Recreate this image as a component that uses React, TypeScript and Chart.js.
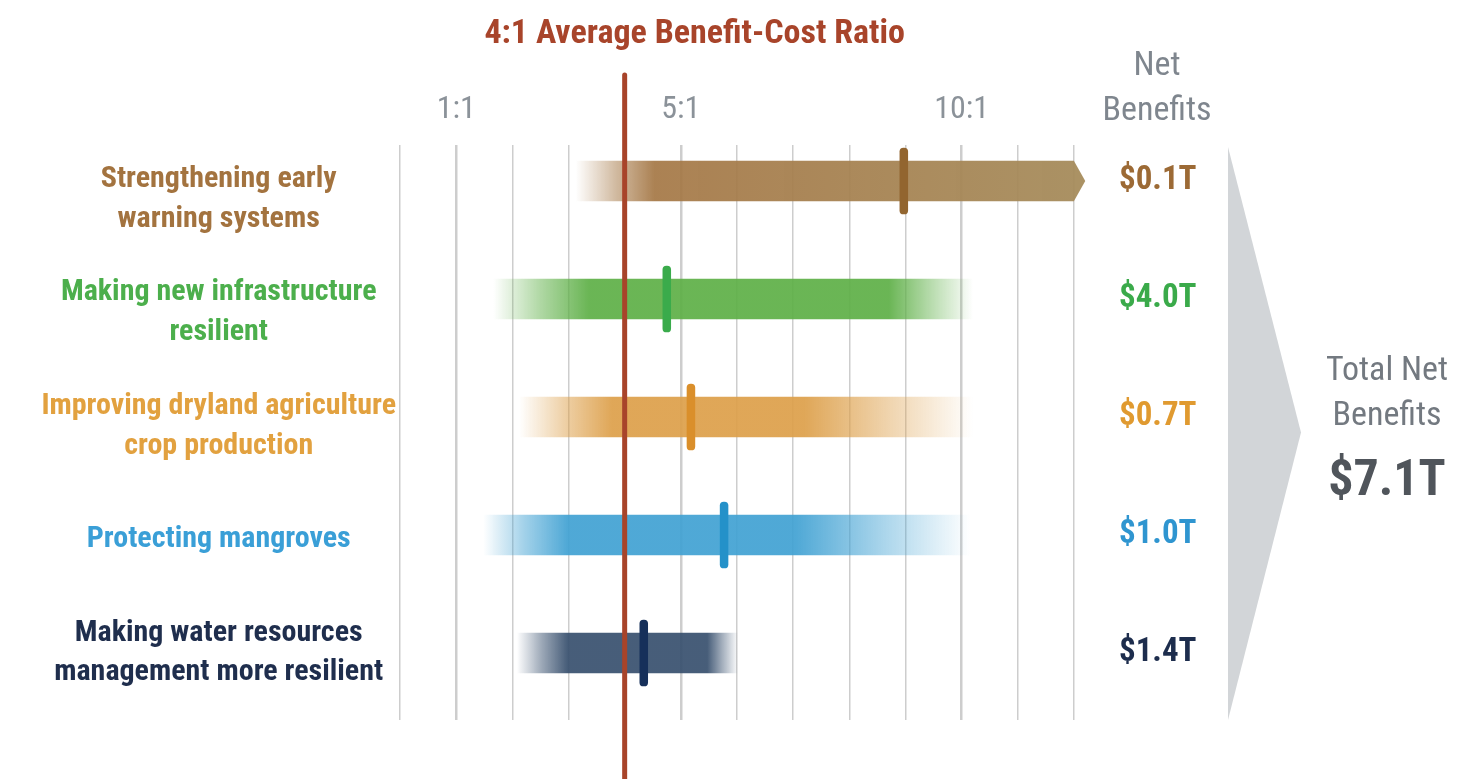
import React, { useEffect, useRef } from 'react';
import { Chart, registerables } from 'chart.js';

Chart.register(...registerables);

// ---------- data ----------
const categories: string[][] = [
  ['Strengthening early', 'warning systems'],
  ['Making new infrastructure', 'resilient'],
  ['Improving dryland agriculture', 'crop production'],
  ['Protecting mangroves'],
  ['Making water resources', 'management more resilient'],
];
const ratioLow = [3.13, 1.66, 2.12, 1.48, 2.08];
const ratioHigh = [12.2, 10.2, 10.2, 10.15, 6.02];
const ratioMid = [8.97, 4.75, 5.18, 5.77, 4.34];
const netBenefits = [0.1, 4.0, 0.7, 1.0, 1.4];
const totalNetBenefits = 7.1;
const averageRatio = 4;
const ratioTickLabels = [1, 5, 10];
const ratioMin = 0;
const ratioMax = 12;

// ---------- styles ----------
const FONT = "'Liberation Sans Narrow', 'Roboto Condensed', 'DejaVu Sans Condensed', sans-serif";
const barRGB = ['165,120,70', '95,176,72', '221,160,75', '66,162,211', '57,81,111'];
const barEndRGB = ['166,140,92', '95,176,72', '221,160,75', '66,162,211', '57,81,111'];
const fadeIn = [1.4, 1.7, 1.65, 1.5, 0.9];
const fadeOut = [0, 1.5, 3.0, 3.1, 0.55];
const markerColors = ['#92652f', '#3aab4b', '#da8f2b', '#2491c9', '#16305a'];
const labelColors = ['#a3733f', '#4caf4c', '#e2a13f', '#3a9fd7', '#1f2e4d'];
const valueColors = ['#9c6a35', '#3aaa4a', '#e09a30', '#2f95d0', '#1d2d4d'];
const MARK_HALF = 0.07;
const AVG_COLOR = '#a8442a';

function barGradient(context: any) {
  const chart = context.chart;
  const i = context.dataIndex;
  const xs = chart.scales.x;
  const c = barRGB[i];
  if (!chart.chartArea || !xs) return `rgba(${c},0.92)`;
  const x0 = xs.getPixelForValue(ratioLow[i]);
  const x1 = xs.getPixelForValue(ratioHigh[i]);
  const span = x1 - x0;
  const g = chart.ctx.createLinearGradient(x0, 0, x1, 0);
  const a = (xs.getPixelForValue(ratioLow[i] + fadeIn[i]) - x0) / span;
  const b = fadeOut[i] > 0 ? (xs.getPixelForValue(ratioHigh[i] - fadeOut[i]) - x0) / span : 1;
  const e = barEndRGB[i];
  g.addColorStop(0, `rgba(${c},0)`);
  g.addColorStop(a * 0.5, `rgba(${c},0.5)`);
  g.addColorStop(a, `rgba(${c},0.93)`);
  if (fadeOut[i] > 0) {
    g.addColorStop(b, `rgba(${e},0.93)`);
    g.addColorStop(b + (1 - b) * 0.5, `rgba(${e},0.45)`);
    g.addColorStop(1, `rgba(${e},0)`);
  } else {
    g.addColorStop(1, `rgba(${e},0.95)`);
  }
  return g;
}

const decorPlugin = {
  id: 'decor',
  afterDatasetsDraw(chart: any) {
    const { ctx, chartArea } = chart;
    const xs = chart.scales.x;
    // arrow head for the open-ended first bar
    const meta = chart.getDatasetMeta(0);
    const el = meta.data[0];
    if (el) {
      const h = el.height;
      const tip = xs.getPixelForValue(ratioHigh[0]);
      ctx.save();
      ctx.fillStyle = `rgba(${barEndRGB[0]},0.95)`;
      ctx.beginPath();
      ctx.moveTo(chartArea.right, el.y - h / 2);
      ctx.lineTo(tip, el.y);
      ctx.lineTo(chartArea.right, el.y + h / 2);
      ctx.closePath();
      ctx.fill();
      ctx.restore();
    }
    // average ratio line
    const ax = xs.getPixelForValue(averageRatio);
    ctx.save();
    ctx.strokeStyle = AVG_COLOR;
    ctx.lineWidth = 5;
    ctx.lineCap = 'round';
    ctx.beginPath();
    ctx.moveTo(ax, 75);
    ctx.lineTo(ax, chart.height + 5);
    ctx.stroke();
    // title
    ctx.fillStyle = AVG_COLOR;
    ctx.font = `bold 34px ${FONT}`;
    ctx.textAlign = 'center';
    ctx.textBaseline = 'middle';
    ctx.fillText(`${averageRatio}:1 Average Benefit-Cost Ratio`, ax + 70, 34);
    ctx.restore();
  },
  afterDraw(chart: any) {
    const { ctx, chartArea } = chart;
    const cx = chartArea.right + 83;
    ctx.save();
    ctx.fillStyle = '#7f868e';
    ctx.font = `34px ${FONT}`;
    ctx.textAlign = 'center';
    ctx.textBaseline = 'middle';
    ctx.fillText('Net', cx, 66);
    ctx.fillText('Benefits', cx, 111);
    // big gray arrow
    const ax0 = chartArea.right + 154;
    const ax1 = chartArea.right + 227;
    ctx.fillStyle = '#d2d5d8';
    ctx.beginPath();
    ctx.moveTo(ax0, chartArea.top + 2);
    ctx.lineTo(ax1, (chartArea.top + chartArea.bottom) / 2);
    ctx.lineTo(ax0, chartArea.bottom);
    ctx.closePath();
    ctx.fill();
    // total
    const tx = chartArea.right + 313;
    ctx.fillStyle = '#737980';
    ctx.font = `34px ${FONT}`;
    ctx.fillText('Total Net', tx, 371);
    ctx.fillText('Benefits', tx, 416);
    ctx.fillStyle = '#50555b';
    ctx.font = `bold 50px ${FONT}`;
    ctx.fillText(`$${totalNetBenefits.toFixed(1)}T`, tx, 482);
    ctx.restore();
  },
};

export default function App() {
  const ref = useRef<HTMLCanvasElement | null>(null);
  useEffect(() => {
    if (!ref.current) return;
    const rowTicks = (axis: any) => {
      axis.ticks = categories.map((_, i) => ({ value: i }));
    };
    const fitWidth = (w: number) => (axis: any) => {
      axis.width = w;
      axis.paddingTop = 0;
      axis.paddingBottom = 0;
    };
    const rowAxis = {
      type: 'linear' as const,
      reverse: true,
      offset: false,
      bounds: 'data' as const,
      grid: { display: false, drawTicks: false, offset: false },
      border: { display: false },
      afterBuildTicks: rowTicks,
    };
    const chart = new Chart(ref.current, {
      type: 'bar',
      data: {
        datasets: [
          {
            label: 'Benefit-cost ratio range',
            data: categories.map((_, i) => ({ x: [ratioLow[i], ratioHigh[i]], y: i })) as any,
            backgroundColor: barGradient as any,
            barThickness: 40,
            grouped: false,
            borderSkipped: false,
            borderWidth: 0,
            clip: 0,
            order: 2,
          } as any,
          {
            label: 'Average ratio',
            data: categories.map((_, i) => ({ x: [ratioMid[i] - MARK_HALF, ratioMid[i] + MARK_HALF], y: i })) as any,
            backgroundColor: markerColors,
            barThickness: 66,
            borderRadius: 4,
            grouped: false,
            borderSkipped: false,
            order: 1,
          } as any,
        ],
      },
      options: {
        indexAxis: 'y',
        responsive: false,
        animation: false,
        layout: { padding: { top: 0, right: 0, bottom: 59, left: 0 } },
        plugins: { legend: { display: false }, tooltip: { enabled: false }, title: { display: false } },
        scales: {
          x: {
            type: 'linear',
            position: 'top',
            min: ratioMin,
            max: ratioMax,
            grid: {
              color: '#cdcdcd',
              lineWidth: (c: any) => (c.tick && ratioTickLabels.includes(c.tick.value) ? 2.5 : 1.5),
              drawTicks: false,
            },
            border: { display: false },
            ticks: {
              stepSize: 1,
              autoSkip: false,
              maxRotation: 0,
              padding: 16,
              color: '#8b9299',
              font: { family: FONT, size: 32 },
              callback: (v: any) => (ratioTickLabels.includes(v) ? `${v}:1` : ''),
            },
            afterFit: (axis: any) => {
              axis.height = 145;
              axis.paddingLeft = 0;
              axis.paddingRight = 0;
            },
          },
          // row axis for the bars (hidden)
          y: {
            ...rowAxis,
            display: false,
            min: -0.305,
            max: 4.568,
          },
          // category labels on the left
          yl: {
            ...rowAxis,
            position: 'left',
            min: -0.477,
            max: 4.59,
            ticks: {
              autoSkip: false,
              crossAlign: 'center',
              padding: 4,
              color: (c: any) => labelColors[c.index],
              font: { family: FONT, size: 30, weight: 'bold', lineHeight: 1.33 },
              callback: (v: any) => categories[v],
            },
            afterFit: fitWidth(400),
          },
          // net benefits on the right
          yr: {
            ...rowAxis,
            position: 'right',
            min: -0.305,
            max: 4.568,
            ticks: {
              autoSkip: false,
              crossAlign: 'center',
              padding: 45,
              color: (c: any) => valueColors[c.index],
              font: { family: FONT, size: 33, weight: 'bold' },
              callback: (v: any) => `$${netBenefits[v].toFixed(1)}T`,
            },
            afterFit: fitWidth(391),
          },
        } as any,
      },
      plugins: [decorPlugin],
    });
    return () => chart.destroy();
  }, []);
  return (
    <div style={{ position: 'fixed', left: 0, top: 0, width: 1465, height: 779, background: '#fff' }}>
      <canvas ref={ref} width={1465} height={779} style={{ width: 1465, height: 779, display: 'block' }} />
    </div>
  );
}
